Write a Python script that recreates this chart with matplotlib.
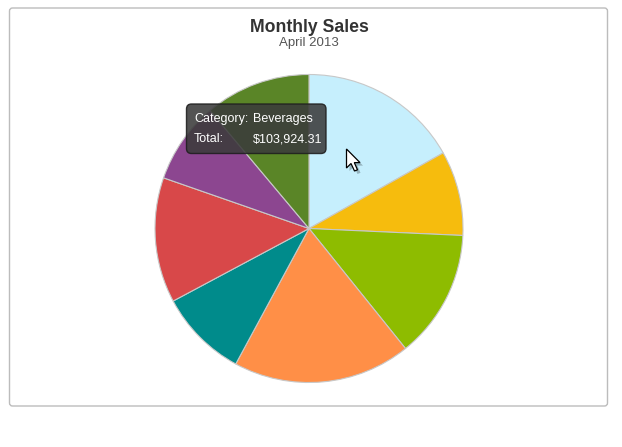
import matplotlib
matplotlib.use("Agg")
import matplotlib.pyplot as plt
from matplotlib.patches import FancyBboxPatch, Polygon

# ---- data ----
categories = ["Beverages", "Condiments", "Confections", "Dairy Products",
              "Grains/Cereals", "Meat/Poultry", "Produce", "Seafood"]
sales = [103924.31, 54877.0, 83345.0, 115243.0, 57450.0, 81115.0, 52820.0, 68597.0]
colors = ["#c6effd", "#f6bc0d", "#8ebc00", "#ff8f47", "#008b8b",
          "#d84849", "#8c4690", "#5a8527"]
title = "Monthly Sales"
subtitle = "April 2013"
tooltip_category = categories[0]
tooltip_total = "${:,.2f}".format(sales[0])

W, H = 622, 447
fig = plt.figure(figsize=(W / 100, H / 100), dpi=100)
ax = fig.add_axes([0, 0, 1, 1])

def Y(y):  # pixel-from-top to data y
    return H - y

# chart frame
frame = FancyBboxPatch((9.5, Y(406)), 598, 398, boxstyle="round,pad=0,rounding_size=3",
                       fc="white", ec="#bcbcbc", lw=1.0, zorder=0)
ax.add_patch(frame)

ax.pie(sales, colors=colors, startangle=90, counterclock=False,
       center=(309, Y(228.5)), radius=154,
       wedgeprops=dict(edgecolor="#c8c8c8", linewidth=0.8), frame=False)

ax.set_xlim(0, W)
ax.set_ylim(0, H)
ax.set_aspect("auto")
ax.axis("off")

font = ["Liberation Sans", "DejaVu Sans"]
ax.text(309, Y(27), title, ha="center", va="center", fontsize=12.7,
        fontweight="bold", color="#333333", family=font)
ax.text(309, Y(43), subtitle, ha="center", va="center", fontsize=9.5,
        color="#555555", family=font)

# tooltip
tip = FancyBboxPatch((186.5, Y(153.5)), 139.5, 49.5,
                     boxstyle="round,pad=0,rounding_size=5",
                     fc="#3b3b3b", ec="#1e1e1e", lw=1.0, alpha=0.88, zorder=5)
ax.add_patch(tip)
ax.text(194, Y(119), "Category:", ha="left", va="center", fontsize=9,
        color="white", family=font, zorder=6)
ax.text(252.5, Y(119), tooltip_category, ha="left", va="center", fontsize=9,
        color="white", family=font, zorder=6)
ax.text(194, Y(139), "Total:", ha="left", va="center", fontsize=9,
        color="white", family=font, zorder=6)
ax.text(252.5, Y(139), tooltip_total, ha="left", va="center", fontsize=9,
        color="white", family=font, zorder=6)

# mouse cursor (screenshot decoration)
tipx, tipy = 346.5, 149
shape = [(0, 0), (0, 19), (4.5, 14.5), (8, 22), (11, 20.8), (7.8, 13.6), (13.5, 13.6)]
shadow = Polygon([(tipx + dx + 3, Y(tipy + dy + 3)) for dx, dy in shape],
                 closed=True, fc="#000000", alpha=0.25, ec="none", zorder=7)
ax.add_patch(shadow)
cur = Polygon([(tipx + dx, Y(tipy + dy)) for dx, dy in shape],
              closed=True, fc="white", ec="black", lw=0.9, zorder=8)
ax.add_patch(cur)

fig.savefig("out.png", dpi=100, facecolor="white")
